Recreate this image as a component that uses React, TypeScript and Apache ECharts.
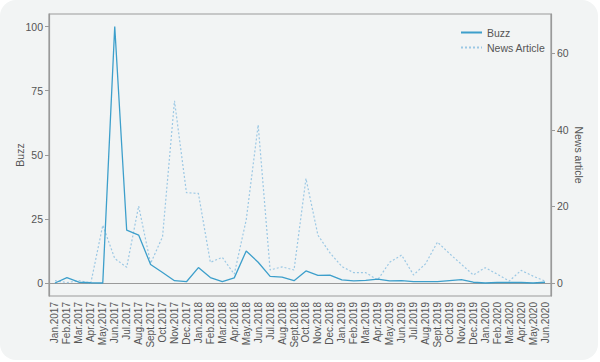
import React, { useEffect, useRef } from "react";
import * as echarts from "echarts";

const months = [
  "Jan.2017", "Feb.2017", "Mar.2017", "Apr.2017", "May.2017", "Jun.2017", "Jul.2017", "Aug.2017", "Sept.2017", "Oct.2017", "Nov.2017", "Dec.2017",
  "Jan.2018", "Feb.2018", "Mar.2018", "Apr.2018", "May.2018", "Jun.2018", "Jul.2018", "Aug.2018", "Sept.2018", "Oct.2018", "Nov.2018", "Dec.2018",
  "Jan.2019", "Feb.2019", "Mar.2019", "Apr.2019", "May.2019", "Jun.2019", "Jul.2019", "Aug.2019", "Sept.2019", "Oct.2019", "Nov.2019", "Dec.2019",
  "Jan.2020", "Feb.2020", "Mar.2020", "Apr.2020", "May.2020", "Jun.2020",
];

const buzz = [
  0, 2.1, 0.3, 0.1, 0, 100, 20.6, 18.7, 7.2, 4.1, 0.9, 0.5,
  6.0, 2.1, 0.5, 2.0, 12.5, 8.1, 2.6, 2.3, 0.9, 4.7, 3.0, 3.1,
  1.2, 0.8, 1.0, 1.5, 0.8, 0.9, 0.5, 0.5, 0.5, 0.9, 1.3, 0.3,
  0, 0.2, 0.2, 0.2, 0, 0.3,
];

const news = [
  0.6, 0.1, 0.6, 0, 15.1, 6.4, 4.1, 20.1, 5.1, 12.1, 47.6, 23.6,
  23.4, 5.4, 6.7, 2.3, 16.5, 41.3, 3.4, 4.2, 3.4, 27.3, 12.5, 7.9,
  4.3, 2.7, 2.7, 0.8, 5.4, 7.3, 2.1, 5.0, 10.7, 7.7, 4.9, 2.1,
  4.0, 2.3, 0.5, 3.3, 1.8, 0.5,
];

const buzzTicks = [0, 25, 50, 75, 100];
const newsTicks = [0, 20, 40, 60];

export default function App() {
  const ref = useRef<HTMLDivElement>(null);
  useEffect(() => {
    if (!ref.current) return;
    const chart = echarts.init(ref.current, null, { renderer: "svg" });
    const font = "Liberation Sans, Arial, sans-serif";
    const axisColor = "#9a9a9a";
    const textColor = "#555";
    chart.setOption({
      animation: false,
      backgroundColor: "transparent",
      textStyle: { fontFamily: font },
      grid: {
        left: 49, right: 49, top: 14, bottom: 66,
        containLabel: false,
        outerBoundsMode: "none",
        show: true, borderColor: axisColor, borderWidth: 1.2, backgroundColor: "transparent",
      },
      legend: {
        orient: "vertical",
        left: 455,
        top: 22,
        itemGap: 4,
        itemWidth: 21,
        itemHeight: 11,
        itemStyle: { opacity: 0 },
        textStyle: { color: textColor, fontSize: 10.5, fontFamily: font },
        data: [
          { name: "Buzz" },
          { name: "News Article" },
        ],
      },
      xAxis: {
        type: "category",
        data: months,
        boundaryGap: true,
        axisLine: { lineStyle: { color: axisColor, width: 1.2 } },
        axisTick: { alignWithLabel: true, length: 4, lineStyle: { color: axisColor } },
        axisLabel: { rotate: 90, interval: 0, fontSize: 10, color: textColor, margin: 6, fontFamily: font },
      },
      yAxis: [
        {
          type: "value",
          min: -5.07,
          max: 104.9,
          position: "left",
          splitLine: { show: false },
          axisLine: { show: true, lineStyle: { color: axisColor, width: 1.2 } },
          axisTick: { show: true, length: 4, customValues: buzzTicks, lineStyle: { color: axisColor } },
          axisLabel: { customValues: buzzTicks, fontSize: 10.5, color: textColor, margin: 6, fontFamily: font },
          name: "Buzz",
          nameLocation: "middle",
          nameGap: 24,
          nameMoveOverlap: false,
          nameTextStyle: { fontSize: 10.5, color: textColor, fontFamily: font },
        },
        {
          type: "value",
          min: -3.4,
          max: 70.3,
          position: "right",
          splitLine: { show: false },
          axisLine: { show: true, lineStyle: { color: axisColor, width: 1.2 } },
          axisTick: { show: true, length: 4, customValues: newsTicks, lineStyle: { color: axisColor } },
          axisLabel: { customValues: newsTicks, fontSize: 10.5, color: textColor, margin: 6, fontFamily: font },
          name: "News article",
          nameLocation: "middle",
          nameRotate: -90,
          nameGap: 22,
          nameMoveOverlap: false,
          nameTextStyle: { fontSize: 10.5, color: textColor, fontFamily: font },
        },
      ],
      series: [
        {
          name: "Buzz",
          type: "line",
          data: buzz,
          yAxisIndex: 0,
          symbol: "none",
          lineStyle: { color: "#3d9fcb", width: 1.3 },
          itemStyle: { color: "#3d9fcb" },
          z: 3,
        },
        {
          name: "News Article",
          type: "line",
          data: news,
          yAxisIndex: 1,
          symbol: "none",
          lineStyle: { color: "#9cc8e4", width: 1.2, type: [2, 2] },
          itemStyle: { color: "#9cc8e4" },
          z: 2,
        },
      ],
    });
    return () => chart.dispose();
  }, []);
  return (
    <div
      style={{
        position: "fixed", left: 0, top: 0, width: 600, height: 362,
        background: "#fff",
      }}
    >
      <div
        style={{
          position: "absolute", left: 0, top: 0, width: 598, height: 360,
          background: "#f2f4f4", borderRadius: 16,
        }}
      />
      <div ref={ref} style={{ position: "absolute", left: 0, top: 0, width: 600, height: 362 }} />
    </div>
  );
}
